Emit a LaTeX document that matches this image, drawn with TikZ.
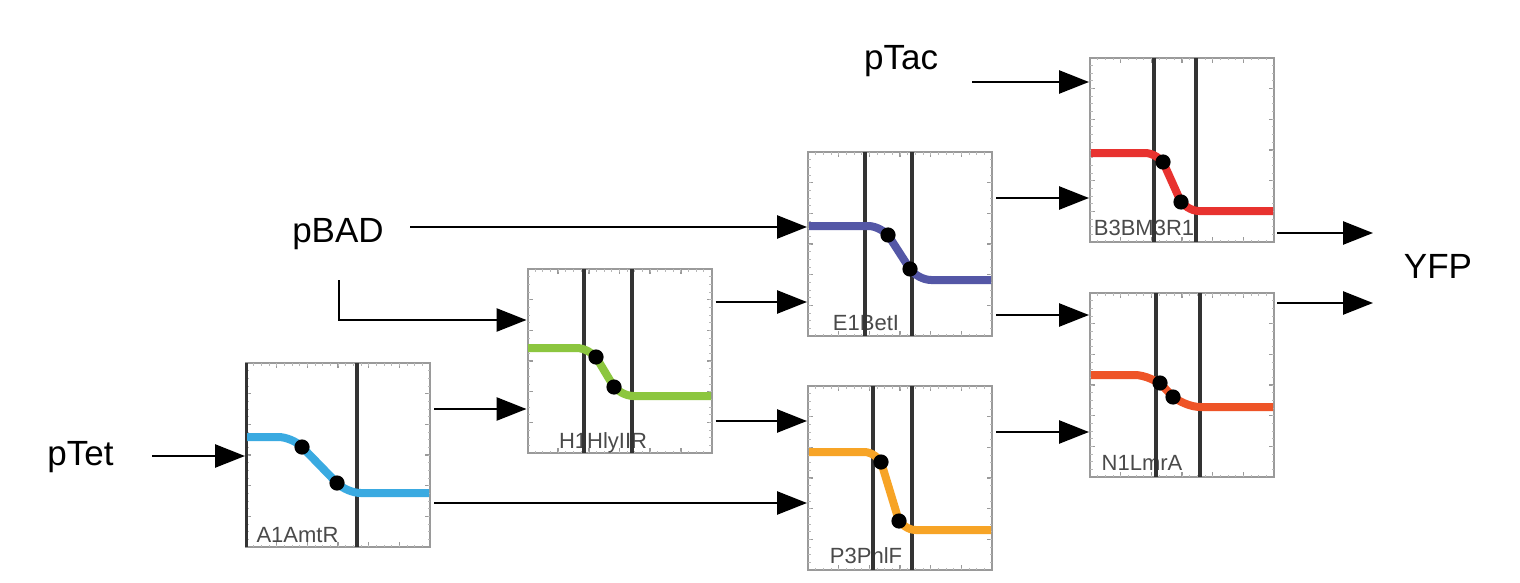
\documentclass[tikz,border=0pt]{standalone}
\usepackage{fontspec}
\setmainfont{Liberation Sans}
\usetikzlibrary{arrows.meta}
\definecolor{cA}{HTML}{3AAAE1}
\definecolor{cH}{HTML}{8CC63F}
\definecolor{cE}{HTML}{5457A6}
\definecolor{cP}{HTML}{F7A426}
\definecolor{cB}{HTML}{E8322F}
\definecolor{cN}{HTML}{EE5427}
\definecolor{frame}{HTML}{9A9A9A}
\definecolor{vline}{HTML}{333333}
\definecolor{labgray}{HTML}{4A4A4A}
\newcommand{\boxticks}[2]{%
  \foreach \i in {1,...,5}{%
    \draw[tickmark] ({#1-92+\i*184/6},{#2-92}) -- ++(0,5);
    \draw[tickmark] ({#1-92+\i*184/6},{#2+92}) -- ++(0,-5);
    \draw[tickmark] ({#1-92},{#2-92+\i*184/6}) -- ++(5,0);
    \draw[tickmark] ({#1+92},{#2-92+\i*184/6}) -- ++(-5,0);
  }%
  \foreach \i in {1,...,23}{%
    \draw[minortick] ({#1-92+\i*184/24},{#2-92}) -- ++(0,2.5);
    \draw[minortick] ({#1-92+\i*184/24},{#2+92}) -- ++(0,-2.5);
    \draw[minortick] ({#1-92},{#2-92+\i*184/24}) -- ++(2.5,0);
    \draw[minortick] ({#1+92},{#2-92+\i*184/24}) -- ++(-2.5,0);
  }%
}
\tikzset{
  gate/.style={draw=frame, line width=1pt, minimum width=92pt, minimum height=92pt, inner sep=0pt, fill=white},
  tickmark/.style={draw=frame, line width=0.8pt},
  minortick/.style={draw=frame!70, line width=0.5pt},
  vl/.style={draw=vline, line width=1.7pt},
  curve/.style={line width=4pt, rounded corners=7pt},
  dot/.style={fill=black},
  glabel/.style={text=labgray, font=\fontsize{11}{13}\selectfont, anchor=base, inner sep=0pt},
  big/.style={font=\fontsize{17.5}{20}\selectfont, anchor=base, inner sep=0pt},
  arr/.style={-{Triangle[length=15pt,width=11.5pt]}, line width=1.3pt},
}
\begin{document}
\begin{tikzpicture}[x=0.5pt, y=-0.5pt]
\useasboundingbox (0,0) rectangle (1520,583);

% gate boxes
\node[gate] (A1) at (338,455) {};
\node[gate] (H1) at (619.5,361) {};
\node[gate] (E1) at (900,244) {};
\node[gate] (P3) at (900,478) {};
\node[gate] (B3) at (1182,150) {};
\node[gate] (N1) at (1182,385) {};

\boxticks{338}{455}
\boxticks{619.5}{361}
\boxticks{900}{244}
\boxticks{900}{478}
\boxticks{1182}{150}
\boxticks{1182}{385}

% labels inside boxes
\node[glabel] (A1lab) at (297.5,542) {A1AmtR};
\node[glabel] (H1lab) at (603,448) {H1HlyIIR};
\node[glabel] (E1lab) at (866,330) {E1BetI};
\node[glabel] (P3lab) at (866,563) {P3PhlF};
\node[glabel] (B3lab) at (1144,235) {B3BM3R1};
\node[glabel] (N1lab) at (1142,470) {N1LmrA};

% vertical threshold lines
\draw[vl] (246.5,363) -- (246.5,547);
\draw[vl] (357,363) -- (357,547);
\draw[vl] (584,269) -- (584,453);
\draw[vl] (632,269) -- (632,453);
\draw[vl] (865,152) -- (865,336);
\draw[vl] (912,152) -- (912,336);
\draw[vl] (873,386) -- (873,570);
\draw[vl] (912,386) -- (912,570);
\draw[vl] (1154,58) -- (1154,242);
\draw[vl] (1196,58) -- (1196,242);
\draw[vl] (1156,293) -- (1156,477);
\draw[vl] (1200,293) -- (1200,477);

% response curves
\draw[curve, cA] (247,437) -- (292.3,437) -- (346.7,493) -- (429,493);
\fill[dot] (302,447) circle[radius=3.8pt];
\fill[dot] (337,483) circle[radius=3.8pt];

\draw[curve, cH] (528,348) -- (590.6,348) -- (619.4,396) -- (711,396);
\fill[dot] (596,357) circle[radius=3.8pt];
\fill[dot] (614,387) circle[radius=3.8pt];

\draw[curve, cE] (809,226) -- (882.2,226) -- (917.1,280) -- (991,280);
\fill[dot] (888,235) circle[radius=3.8pt];
\fill[dot] (910,269) circle[radius=3.8pt];

\draw[curve, cP] (809,452) -- (878,452) -- (901.7,530) -- (991,530);
\fill[dot] (881,462) circle[radius=3.8pt];
\fill[dot] (899,521) circle[radius=3.8pt];

\draw[curve, cB] (1091,153) -- (1159,153) -- (1185,211) -- (1273,211);
\fill[dot] (1163,162) circle[radius=3.8pt];
\fill[dot] (1181,202) circle[radius=3.8pt];

\draw[curve, cN, rounded corners=9pt] (1091,375) -- (1152.6,375) -- (1182.3,407) -- (1273,407);
\fill[dot] (1160,383) circle[radius=3.8pt];
\fill[dot] (1173,397) circle[radius=3.8pt];

% input / output texts
\node[big] (pTet) at (80.5,465) {pTet};
\node[big] (pBAD) at (338,242) {pBAD};
\node[big] (pTac) at (901,70) {pTac};
\node[big] (YFP) at (1438,278) {YFP};

\coordinate (pTetS) at (152,456);
\coordinate (pBADS) at (410,227);
\coordinate (pBADL) at (339,280);
\coordinate (pTacS) at (972,82);
\coordinate (YFPa) at (1373,233);
\coordinate (YFPb) at (1373,303);

% connectors
\draw[arr] (pTetS) -- (A1.west |- pTetS);
\draw[arr] (pBADS) -- (E1.west |- pBADS);
\draw[arr] (pBADL) -- (339,320) -- (H1.west |- 0,320);
\draw[arr] (pTacS) -- (B3.west |- pTacS);

\draw[arr] ([xshift=1.5pt]A1.east |- 0,409) -- (H1.west |- 0,409);
\draw[arr] ([xshift=1.5pt]A1.east |- 0,503) -- (P3.west |- 0,503);
\draw[arr] ([xshift=1.5pt]H1.east |- 0,302) -- (E1.west |- 0,302);
\draw[arr] ([xshift=1.5pt]H1.east |- 0,421) -- (P3.west |- 0,421);
\draw[arr] ([xshift=1.5pt]E1.east |- 0,198) -- (B3.west |- 0,198);
\draw[arr] ([xshift=1.5pt]E1.east |- 0,315) -- (N1.west |- 0,315);
\draw[arr] ([xshift=1.5pt]P3.east |- 0,432) -- (N1.west |- 0,432);
\draw[arr] ([xshift=1pt]B3.east |- YFPa) -- (YFPa);
\draw[arr] ([xshift=1pt]N1.east |- YFPb) -- (YFPb);
\end{tikzpicture}
\end{document}
